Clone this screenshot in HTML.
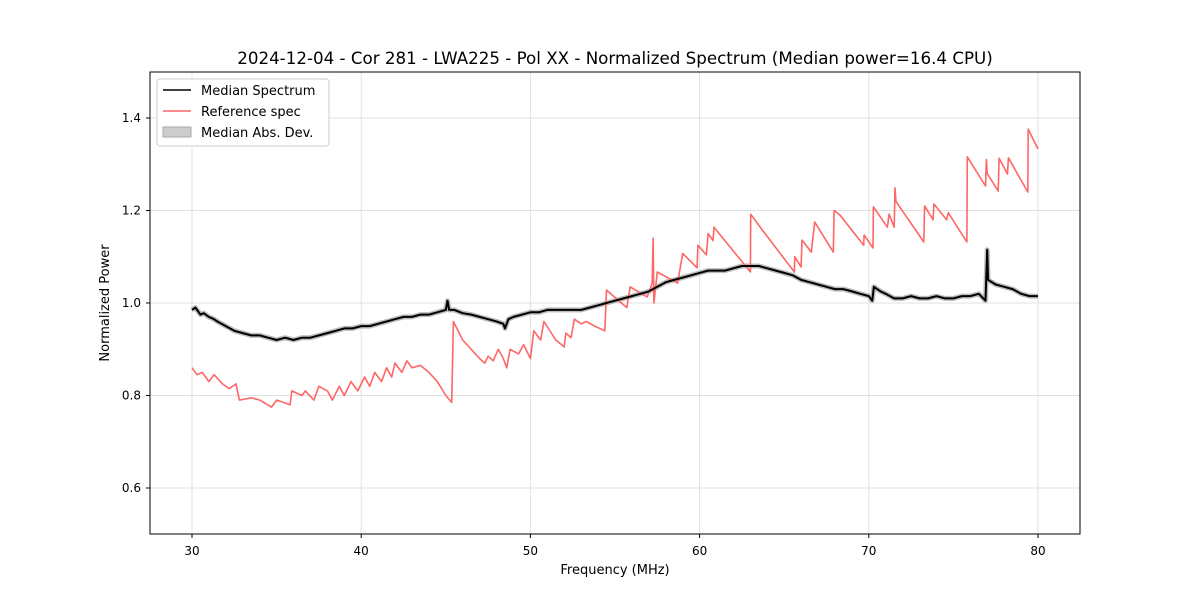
<!DOCTYPE html>
<html><head><meta charset="utf-8"><style>
body{margin:0;background:#fff;font-family:"Liberation Sans","DejaVu Sans",sans-serif}
svg text{font-family:"DejaVu Sans","Liberation Sans",sans-serif;fill:#000}
</style></head><body>
<svg id="chart" width="1200" height="600" xmlns="http://www.w3.org/2000/svg">
<text x="615" y="64" font-size="16.7" text-anchor="middle">2024-12-04 - Cor 281 - LWA225 - Pol XX - Normalized Spectrum (Median power=16.4 CPU)</text>
<g id="grid"></g>
<g id="ticks"></g>
<g id="series"></g>
<rect x="150" y="72" width="930" height="462" fill="none" stroke="#000" stroke-width="1"/>
<text x="615" y="574" font-size="13" text-anchor="middle">Frequency (MHz)</text>
<text x="109" y="303" font-size="13" text-anchor="middle" transform="rotate(-90 109 303)">Normalized Power</text>
<g>
<rect x="157" y="79" width="172" height="67" rx="3" fill="#fff" stroke="#ccc"/>
<line x1="163" y1="90" x2="191" y2="90" stroke="#000" stroke-width="1.5"/>
<text x="201" y="95" font-size="13">Median Spectrum</text>
<line x1="163" y1="111" x2="191" y2="111" stroke="#ff6666" stroke-width="1.5"/>
<text x="201" y="116" font-size="13">Reference spec</text>
<rect x="163" y="127" width="28" height="10" fill="#ccc" stroke="#aaa"/>
<text x="201" y="137" font-size="13">Median Abs. Dev.</text>
</g>
</svg>
<script>
const xTicks=[30,40,50,60,70,80];
const yTicks=[0.6,0.8,1.0,1.2,1.4];
const refFreq=[30,30.3,30.6,31,31.3,31.8,32.2,32.6,32.8,33.5,34,34.7,35,35.4,35.8,35.9,36.5,36.7,37.2,37.5,38,38.3,38.7,39,39.4,39.8,40.2,40.5,40.8,41.2,41.5,41.8,42,42.4,42.7,43,43.5,44,44.5,45,45.35,45.45,46,46.5,47,47.3,47.5,47.8,48.1,48.4,48.6,48.8,49.3,49.6,50,50.2,50.6,50.8,51.5,52,52.1,52.4,52.6,53,53.3,53.8,54.4,54.5,55.7,55.9,56.9,57.2,57.25,57.3,57.5,58.7,59.0,59.85,59.9,60.4,60.5,60.8,60.85,63.0,63.02,63.7,65.6,65.62,66.0,66.05,66.6,66.8,67.9,67.95,68.3,69.7,69.72,70.25,70.27,71.1,71.2,71.5,71.55,71.6,73.25,73.3,73.8,73.85,74.6,74.7,75.8,75.82,76.9,76.95,77.0,77.65,77.7,78.2,78.25,79.4,79.42,80];
const refVal=[0.86,0.845,0.85,0.83,0.845,0.825,0.815,0.825,0.79,0.795,0.79,0.775,0.79,0.785,0.78,0.81,0.8,0.81,0.79,0.82,0.81,0.79,0.82,0.8,0.83,0.81,0.84,0.82,0.85,0.83,0.86,0.84,0.87,0.85,0.875,0.86,0.865,0.85,0.83,0.8,0.785,0.96,0.92,0.9,0.88,0.87,0.885,0.875,0.9,0.88,0.86,0.9,0.89,0.91,0.88,0.94,0.92,0.96,0.92,0.905,0.935,0.925,0.965,0.955,0.96,0.95,0.94,1.028,0.99,1.035,1.013,1.043,1.14,1.0,1.067,1.043,1.107,1.076,1.125,1.104,1.15,1.135,1.164,1.067,1.192,1.158,1.067,1.1,1.078,1.136,1.11,1.175,1.11,1.2,1.19,1.125,1.147,1.119,1.208,1.164,1.192,1.164,1.249,1.22,1.132,1.21,1.18,1.214,1.18,1.195,1.132,1.316,1.253,1.31,1.28,1.242,1.313,1.279,1.314,1.24,1.376,1.333];
const medFreq=[30,30.2,30.5,30.7,31,31.3,31.5,32,32.5,33,33.5,34,34.5,35,35.5,36,36.5,37,37.5,38,38.5,39,39.5,40,40.5,41,41.5,42,42.5,43,43.5,44,44.5,45,45.1,45.2,45.5,46,46.5,47,47.5,48,48.4,48.5,48.7,49,49.5,50,50.5,51,51.5,52,52.5,53,53.5,54,54.5,55,55.5,56,56.5,57,57.5,58,58.5,59,59.5,60,60.5,61,61.5,62,62.5,63,63.5,64,64.5,65,65.5,66,66.5,67,67.5,68,68.5,69,69.5,70,70.2,70.3,70.7,71,71.5,72,72.5,73,73.5,74,74.5,75,75.5,76,76.5,76.9,77.0,77.05,77.5,78,78.5,79,79.5,80];
const medVal=[0.985,0.99,0.975,0.978,0.97,0.965,0.96,0.95,0.94,0.935,0.93,0.93,0.925,0.92,0.925,0.92,0.925,0.925,0.93,0.935,0.94,0.945,0.945,0.95,0.95,0.955,0.96,0.965,0.97,0.97,0.975,0.975,0.98,0.985,1.005,0.985,0.985,0.978,0.975,0.97,0.965,0.96,0.955,0.945,0.965,0.97,0.975,0.98,0.98,0.985,0.985,0.985,0.985,0.985,0.99,0.995,1.0,1.005,1.01,1.015,1.02,1.025,1.035,1.045,1.05,1.055,1.06,1.065,1.07,1.07,1.07,1.075,1.08,1.08,1.08,1.075,1.07,1.065,1.06,1.05,1.045,1.04,1.035,1.03,1.03,1.025,1.02,1.015,1.005,1.035,1.025,1.02,1.01,1.01,1.015,1.01,1.01,1.015,1.01,1.01,1.015,1.015,1.02,1.005,1.115,1.05,1.04,1.035,1.03,1.02,1.015,1.015];
const NS='http://www.w3.org/2000/svg';
const X=f=>192+(f-30)*16.92;
const Y=v=>303-(v-1)*462.5;
function mk(tag,attrs,parent){const e=document.createElementNS(NS,tag);for(const k in attrs)e.setAttribute(k,attrs[k]);parent.appendChild(e);return e;}
const grid=document.getElementById('grid'),ticks=document.getElementById('ticks'),series=document.getElementById('series');
xTicks.forEach(t=>{
const g=mk('line',{x1:X(t),x2:X(t),y1:72,y2:534,stroke:'#e0e0e0','stroke-width':1},grid);


mk('line',{x1:X(t),x2:X(t),y1:534,y2:538,stroke:'#000'},ticks);
const l=mk('text',{x:X(t),y:555,'font-size':12,'text-anchor':'middle'},ticks);
l.textContent=t;


});
yTicks.forEach(t=>{
const g=mk('line',{x1:150,x2:1080,y1:Y(t),y2:Y(t),stroke:'#e0e0e0','stroke-width':1},grid);


mk('line',{x1:146,x2:150,y1:Y(t),y2:Y(t),stroke:'#000'},ticks);
const l=mk('text',{x:141,y:Y(t)+4,'font-size':12,'text-anchor':'end'},ticks);
l.textContent=t.toFixed(1);


});
const medPts=medFreq.map((f,i)=>X(f).toFixed(1)+','+Y(medVal[i]).toFixed(1)).join(' ');
const band=mk('polyline',{points:medPts,fill:'none',stroke:'#bbb','stroke-width':5,'stroke-linejoin':'round'},series);


const ref=mk('polyline',{points:refFreq.map((f,i)=>X(f).toFixed(1)+','+Y(refVal[i]).toFixed(1)).join(' '),fill:'none',stroke:'#ff6666','stroke-width':1.6,'stroke-linejoin':'round'},series);


const med=mk('polyline',{points:medPts,fill:'none',stroke:'#000','stroke-width':2,'stroke-linejoin':'round'},series);


</script>
</body></html>
